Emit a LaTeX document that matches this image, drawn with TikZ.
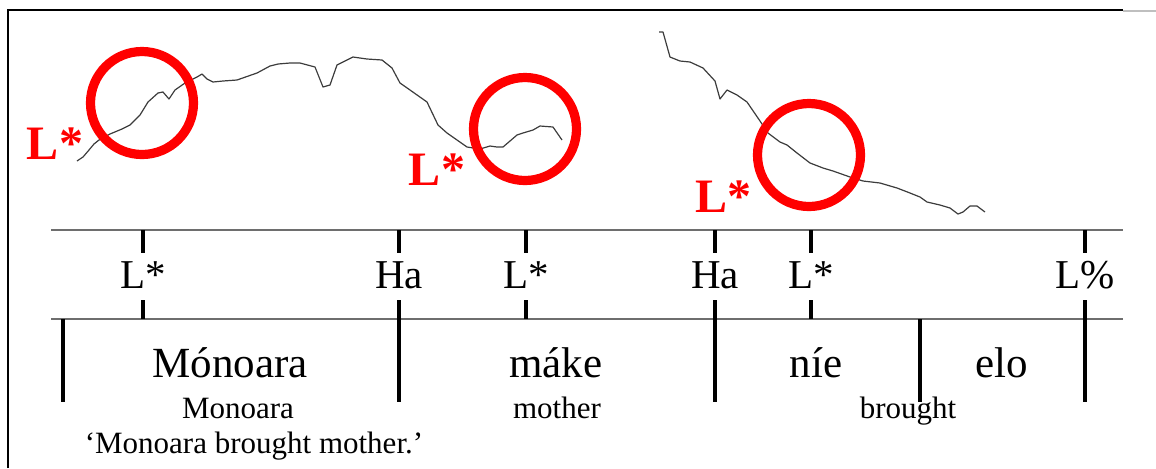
\documentclass[tikz,border=0pt]{standalone}
\usepackage{fontspec}
\setmainfont{Liberation Serif}
\usetikzlibrary{positioning}
\definecolor{Rc}{HTML}{FF0000}
\definecolor{tierc}{HTML}{6E6E6E}
\definecolor{pitchc}{HTML}{3C3C3C}
\tikzset{
  tone/.style={anchor=base, inner sep=0pt, font=\fontsize{20.5}{24}\selectfont},
  word/.style={anchor=base, inner sep=0pt, font=\fontsize{21.5}{25}\selectfont},
  gloss/.style={anchor=base, inner sep=0pt, font=\fontsize{15.5}{18}\selectfont},
  Lstar/.style={anchor=base, inner sep=0pt, text=Rc, font=\fontsize{24}{28}\selectfont\bfseries},
  focus/.style={draw=Rc, line width=4.6pt, circle, minimum size=51.5pt, inner sep=0pt},
  tick/.style={line width=2pt},
  tier/.style={draw=tierc, line width=0.75pt},
  pitch/.style={draw=pitchc, line width=0.6pt, line join=round},
  frame/.style={line width=0.8pt},
}

\begin{document}
\begin{tikzpicture}[x=0.5pt, y=-0.5pt]
  \useasboundingbox (0,0) rectangle (1156,468);
  \draw[frame] (8,468) -- (8,10) -- (1123,10);
  \draw[black!25, line width=0.6pt] (1123,11) -- (1156,11);
  % pitch tracks
  \draw[pitch] (77,161) -- (83,157) -- (89,150) -- (94,144) -- (99,140) -- (110,134) -- (122,129) -- (130,125)
    -- (140,115) -- (148,102) -- (158,93) -- (163,92) -- (169,99) -- (175,90) -- (185,83) -- (197,77)
    -- (202,74) -- (207,79) -- (213,82) -- (223,81) -- (237,80) -- (257,73) -- (270,66) -- (278,64)
    -- (290,63) -- (300,63) -- (315,67) -- (323,87) -- (330,85) -- (337,65) -- (353,57) -- (367,59)
    -- (382,60) -- (392,68) -- (400,83) -- (410,90) -- (427,102) -- (438,125) -- (447,133) -- (467,147)
    -- (480,149) -- (490,146) -- (497,147) -- (503,147) -- (517,135) -- (523,133) -- (533,130)
    -- (540,126) -- (553,127) -- (562,140);
  \draw[pitch] (659,32) -- (663,32) -- (670,57) -- (680,61) -- (690,62) -- (703,68) -- (715,81) -- (720,99)
    -- (727,90) -- (737,95) -- (747,102) -- (760,121) -- (768,133) -- (780,142) -- (787,145) -- (797,153)
    -- (810,163) -- (823,168) -- (833,171) -- (850,177) -- (863,181) -- (880,183) -- (897,188) -- (910,193)
    -- (920,197) -- (927,202) -- (940,205) -- (950,208) -- (958,214) -- (963,212) -- (970,206)
    -- (977,206) -- (985,212);
  \node[focus] (c1) at (142,103) {};
  \node[focus] (c2) at (525,129) {};
  \node[focus] (c3) at (809,155) {};
  \node[Lstar] (r1) at (55,159) {L*};
  \node[Lstar] (r2) at (437,185) {L*};
  \node[Lstar] (r3) at (723,212) {L*};
  % tiers
  \draw[tier] (51,230) coordinate (tl) -- (1123,230) coordinate (tr);
  \draw[tier] (51,319) coordinate (bl) -- (1123,319) coordinate (br);
  \foreach \n/\x/\t/\d in {1/143/L*/319, 2/399/Ha/402, 3/526/L*/319, 4/715/Ha/402, 5/811/L*/319, 6/1085/{L\%}/402}{
    \node[tone] (tn\n) at (\x,288) {\t};
    \draw[tick] (tn\n |- tl) -- (\x,253);
    \draw[tick] (\x,300) -- (\x,\d);
  }
  \coordinate (wb1) at (63,402);
  \coordinate (wb2) at (920,402);
  \draw[tick] (wb1 |- bl) -- (wb1);
  \draw[tick] (wb2 |- bl) -- (wb2);
  % words and glosses
  \node[word] (w1) at (230,377) {Mónoara};
  \node[word] (w2) at (556,377) {máke};
  \node[word] (w3) at (816,377) {níe};
  \node[word] (w4) at (1002,377) {elo};
  \node[gloss] (g1) at (238,418) {Monoara};
  \node[gloss] (g2) at (557,418) {mother};
  \node[gloss] (g3) at (908,418) {brought};
  \node[gloss] (tr1) at (254,453) {‘Monoara brought mother.’};
\end{tikzpicture}
\end{document}
